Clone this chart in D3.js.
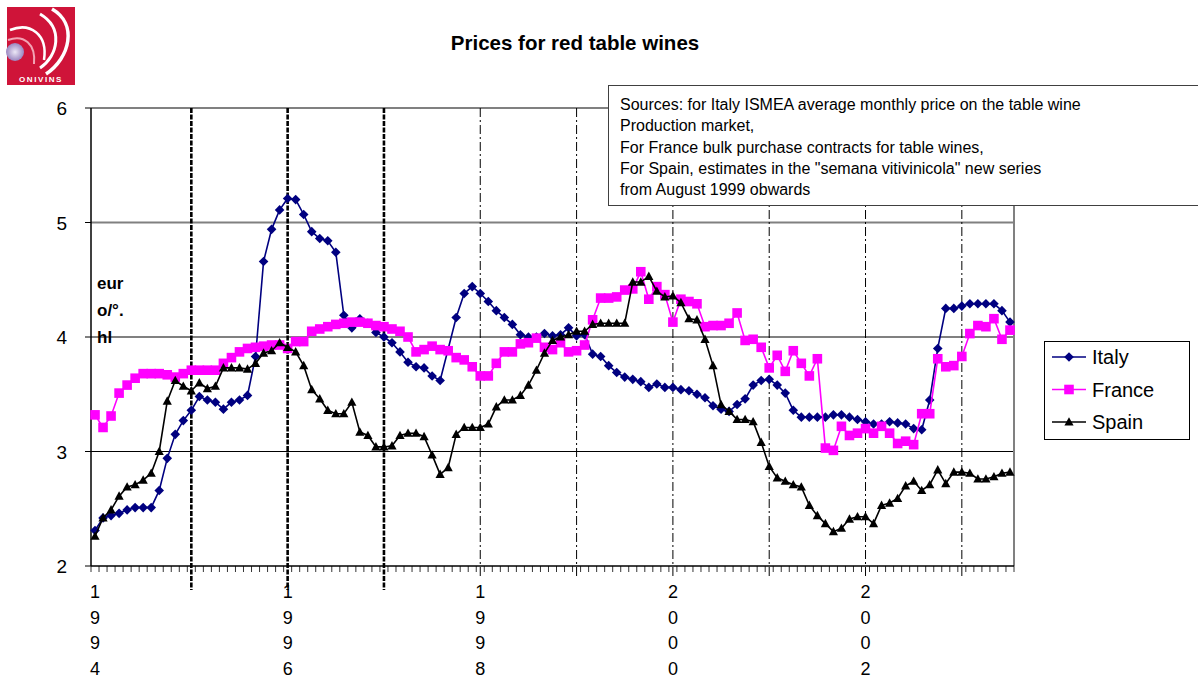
<!DOCTYPE html>
<html>
<head>
<meta charset="utf-8">
<script src="https://cdn.jsdelivr.net/npm/d3@7"></script>
<style>
  body { margin: 0; background: #fff; }
  svg { display: block; font-family: "Liberation Sans", Arial, sans-serif; }
</style>
</head>
<body>
<svg id="chart" width="1198" height="679"></svg>
<script>
// monthly prices, Jan 1994 .. Jul 2003 (eur / %vol / hl)
const italy = [
  2.31, 2.42, 2.44, 2.46, 2.49, 2.51, 2.51, 2.51, 2.66, 2.94,
  3.15, 3.27, 3.36, 3.48, 3.45, 3.43, 3.37, 3.43, 3.45, 3.49,
  3.83, 4.66, 4.94, 5.11, 5.21, 5.20, 5.07, 4.92, 4.86, 4.84,
  4.74, 4.19, 4.08, 4.16, 4.12, 4.04, 4.00, 3.95, 3.87, 3.78,
  3.74, 3.73, 3.66, 3.62, null, 4.17, 4.38, 4.44, 4.38, 4.31,
  4.23, 4.17, 4.11, 4.02, 4.00, 4.00, 4.03, 4.01, 4.02, 4.08,
  4.01, 4.02, 3.85, 3.83, 3.75, 3.69, 3.65, 3.63, 3.61, 3.56,
  3.59, 3.56, 3.56, 3.54, 3.53, 3.50, 3.47, 3.40, 3.37, 3.35,
  3.41, 3.46, 3.58, 3.62, 3.63, 3.58, 3.51, 3.36, 3.30, 3.30,
  3.30, 3.30, 3.32, 3.32, 3.30, 3.28, 3.26, 3.24, 3.24, 3.26,
  3.25, 3.24, 3.20, 3.19, 3.45, 3.90, 4.25, 4.25, 4.27, 4.29,
  4.29, 4.29, 4.29, 4.23, 4.13
];
const france = [
  3.32, 3.21, 3.31, 3.51, 3.58, 3.64, 3.68, 3.68, 3.68, 3.67,
  3.65, 3.68, 3.71, 3.71, 3.71, 3.71, 3.77, 3.82, 3.87, 3.90,
  3.91, 3.92, 3.93, 3.93, 3.90, 3.96, 3.96, 4.05, 4.07, 4.09,
  4.11, 4.12, 4.13, 4.13, 4.12, 4.10, 4.09, 4.07, 4.05, 4.00,
  3.87, 3.89, 3.92, 3.89, 3.88, 3.82, 3.80, 3.74, 3.66, 3.66,
  3.77, 3.87, 3.87, 3.94, 3.95, 3.99, 3.91, 3.89, 3.95, 3.87,
  3.88, 3.93, 4.15, 4.34, 4.34, 4.35, 4.41, 4.42, 4.57, 4.33,
  4.44, 4.37, 4.13, 4.33, 4.31, 4.29, 4.09, 4.10, 4.10, 4.12,
  4.21, 3.97, 3.98, 3.91, 3.73, 3.84, 3.70, 3.88, 3.77, 3.66,
  3.81, 3.03, 3.01, 3.22, 3.14, 3.16, 3.20, 3.16, 3.22, 3.16,
  3.07, 3.09, 3.06, 3.33, 3.33, 3.81, 3.74, 3.75, 3.83, 4.03,
  4.10, 4.09, 4.16, 3.98, 4.06
];
const spain = [
  2.26, 2.42, 2.49, 2.61, 2.69, 2.71, 2.75, 2.81, 3.00, 3.44,
  3.62, 3.57, 3.53, 3.60, 3.55, 3.57, 3.73, 3.73, 3.73, 3.72,
  3.77, 3.86, 3.88, 3.95, 3.91, 3.87, 3.75, 3.54, 3.46, 3.36,
  3.33, 3.33, 3.43, 3.17, 3.14, 3.04, 3.04, 3.05, 3.14, 3.16,
  3.16, 3.13, 2.97, 2.80, 2.86, 3.15, 3.21, 3.21, 3.21, 3.24,
  3.39, 3.45, 3.45, 3.49, 3.58, 3.71, 3.86, 3.97, 4.00, 4.02,
  4.05, 4.05, 4.11, 4.12, 4.12, 4.12, 4.12, 4.48, 4.48, 4.53,
  4.40, 4.35, 4.36, 4.30, 4.16, 4.15, 3.98, 3.75, 3.41, 3.35,
  3.28, 3.28, 3.26, 3.08, 2.87, 2.77, 2.74, 2.71, 2.69, 2.53,
  2.44, 2.37, 2.30, 2.33, 2.41, 2.43, 2.43, 2.37, 2.53, 2.55,
  2.59, 2.70, 2.74, 2.66, 2.71, 2.84, 2.72, 2.82, 2.82, 2.81,
  2.76, 2.76, 2.78, 2.81, 2.82
];

const yTicks = [2, 3, 4, 5, 6];
const yearLabels = ['1994', '1996', '1998', '2000', '2002'];
const labelMonths = [0, 24, 48, 72, 96];
const yearLines = [12, 24, 36, 48, 60, 72, 84, 96, 108];
const unitLines = ['eur', 'o/°.', 'hl'];
const sourceLines = [
  'Sources: for Italy ISMEA average monthly price on the table wine',
  'Production market,',
  'For France bulk purchase contracts for table wines,',
  'For Spain, estimates in the "semana vitivinicola" new series',
  'from August 1999 obwards'
];

const series = [
  { name: 'Italy', values: italy, color: '#000080', marker: 'diamond' },
  { name: 'France', values: france, color: '#ff00ff', marker: 'square' },
  { name: 'Spain', values: spain, color: '#000000', marker: 'triangle' }
];

const svg = d3.select('#chart');
const x = d3.scaleLinear().domain([-0.5, italy.length - 0.5]).range([91, 1014]);
const y = d3.scaleLinear().domain([2, 6]).range([566, 108]);

function markerPath(type) {
  if (type === 'diamond') return 'M0,-4.8L4.8,0L0,4.8L-4.8,0Z';
  if (type === 'square') return 'M-4.8,-4.8H4.8V4.8H-4.8Z';
  return 'M0,-4.8L4.6,3.6L-4.6,3.6Z';
}

// logo
const logo = svg.append('g');
logo.append('rect').attr('x', 7).attr('y', 7).attr('width', 68).attr('height', 78).attr('fill', '#cf1439');
const glow = svg.append('defs').append('radialGradient').attr('id', 'glow');
glow.append('stop').attr('offset', '0%').attr('stop-color', '#ece8f6');
glow.append('stop').attr('offset', '100%').attr('stop-color', '#9a86c0');
logo.append('circle').attr('cx', 15).attr('cy', 52).attr('r', 9).attr('fill', 'url(#glow)');
// swirl arcs
logo.append('path').attr('d', 'M52,9 C78,24 70,58 46,74').attr('fill', 'none').attr('stroke', '#fff').attr('stroke-width', 3.5);
logo.append('path').attr('d', 'M40,14 C64,28 58,56 40,68').attr('fill', 'none').attr('stroke', '#fff').attr('stroke-width', 3);
logo.append('path').attr('d', 'M10,30 C30,22 48,34 44,60').attr('fill', 'none').attr('stroke', '#fff').attr('stroke-width', 2.5);
logo.append('path').attr('d', 'M8,40 C24,34 36,44 34,64').attr('fill', 'none').attr('stroke', '#f2a3b4').attr('stroke-width', 2);
logo.append('text').attr('x', 41).attr('y', 82).attr('text-anchor', 'middle')
  .attr('fill', '#fff').attr('font-size', 8).attr('font-weight', 'bold').attr('letter-spacing', 1.6)
  .text('ONIVINS');

// title
svg.append('text').attr('x', 575).attr('y', 50).attr('text-anchor', 'middle')
  .attr('font-size', 20.5).attr('font-weight', 'bold').text('Prices for red table wines');

// horizontal gridlines
svg.selectAll('.hgrid').data(yTicks.slice(1)).join('line')
  .attr('x1', x.range()[0]).attr('x2', x.range()[1])
  .attr('y1', d => y(d)).attr('y2', d => y(d))
  .attr('stroke', d => d === 3 ? '#000' : '#808080')
  .attr('stroke-width', d => d === 3 ? 1.2 : 2);

// plot border (right)
svg.append('line').attr('x1', 1014).attr('x2', 1014).attr('y1', y(6)).attr('y2', y(2))
  .attr('stroke', '#808080').attr('stroke-width', 2);

// year separators
svg.selectAll('.vline').data(yearLines).join('line')
  .attr('x1', d => x(d)).attr('x2', d => x(d))
  .attr('y1', y(6)).attr('y2', (d, i) => i < 3 ? 590 : 578)
  .attr('stroke', '#000')
  .attr('stroke-width', (d, i) => i < 3 ? 2.6 : 1)
  .attr('stroke-dasharray', (d, i) => i < 3 ? '5,1.5' : '9,3,2,3');

// axes
svg.append('line').attr('x1', 91).attr('x2', 91).attr('y1', y(6)).attr('y2', y(2))
  .attr('stroke', '#000').attr('stroke-width', 1.5);
svg.append('line').attr('x1', 91).attr('x2', 1014).attr('y1', y(2)).attr('y2', y(2))
  .attr('stroke', '#000').attr('stroke-width', 1.5);
svg.selectAll('.ytick').data(yTicks).join('line')
  .attr('x1', 85).attr('x2', 91).attr('y1', d => y(d)).attr('y2', d => y(d))
  .attr('stroke', '#000');
svg.selectAll('.ylab').data(yTicks).join('text')
  .attr('x', 67).attr('y', d => y(d) + 7).attr('text-anchor', 'end')
  .attr('font-size', 19).text(d => d);
svg.selectAll('.xtick').data(d3.range(italy.length + 1)).join('line')
  .attr('x1', d => x(d - 0.5)).attr('x2', d => x(d - 0.5))
  .attr('y1', y(2)).attr('y2', y(2) + 6)
  .attr('stroke', '#000').attr('stroke-width', 0.8);

// x labels, one digit per line
labelMonths.forEach((m, i) => {
  const t = svg.append('text').attr('x', x(m)).attr('y', 598)
    .attr('text-anchor', 'middle').attr('font-size', 18);
  yearLabels[i].split('').forEach((ch, k) => {
    t.append('tspan').attr('x', x(m)).attr('dy', k === 0 ? 0 : 25.5).text(ch);
  });
});

// unit label
unitLines.forEach((s, i) => {
  svg.append('text').attr('x', 97).attr('y', 289 + i * 27)
    .attr('font-size', 17).attr('font-weight', 'bold').text(s);
});

// series
const line = d3.line().x(d => x(d[0])).y(d => y(d[1]));
series.forEach(s => {
  const pts = s.values.map((v, i) => [i, v]).filter(d => d[1] != null);
  svg.append('path').datum(pts).attr('d', line)
    .attr('fill', 'none').attr('stroke', s.color).attr('stroke-width', 1.6);
  svg.append('g').selectAll('path').data(pts).join('path')
    .attr('transform', d => `translate(${x(d[0])},${y(d[1])})`)
    .attr('d', markerPath(s.marker)).attr('fill', s.color);
});

// sources box
svg.append('rect').attr('x', 608.5).attr('y', 85.5).attr('width', 600).attr('height', 120)
  .attr('fill', '#fff').attr('stroke', '#404040');
sourceLines.forEach((s, i) => {
  svg.append('text').attr('x', 620).attr('y', 110 + i * 21.3).attr('font-size', 16).text(s);
});

// legend
const legend = svg.append('g');
legend.append('rect').attr('x', 1044.5).attr('y', 341.5).attr('width', 145).attr('height', 98)
  .attr('fill', '#fff').attr('stroke', '#000');
series.forEach((s, i) => {
  const ly = 357 + i * 32.5;
  legend.append('line').attr('x1', 1052).attr('x2', 1086).attr('y1', ly).attr('y2', ly)
    .attr('stroke', s.color).attr('stroke-width', 1.6);
  legend.append('path').attr('transform', `translate(1069,${ly})`)
    .attr('d', markerPath(s.marker)).attr('fill', s.color);
  legend.append('text').attr('x', 1092).attr('y', ly + 7).attr('font-size', 20).text(s.name);
});
</script>
</body>
</html>
